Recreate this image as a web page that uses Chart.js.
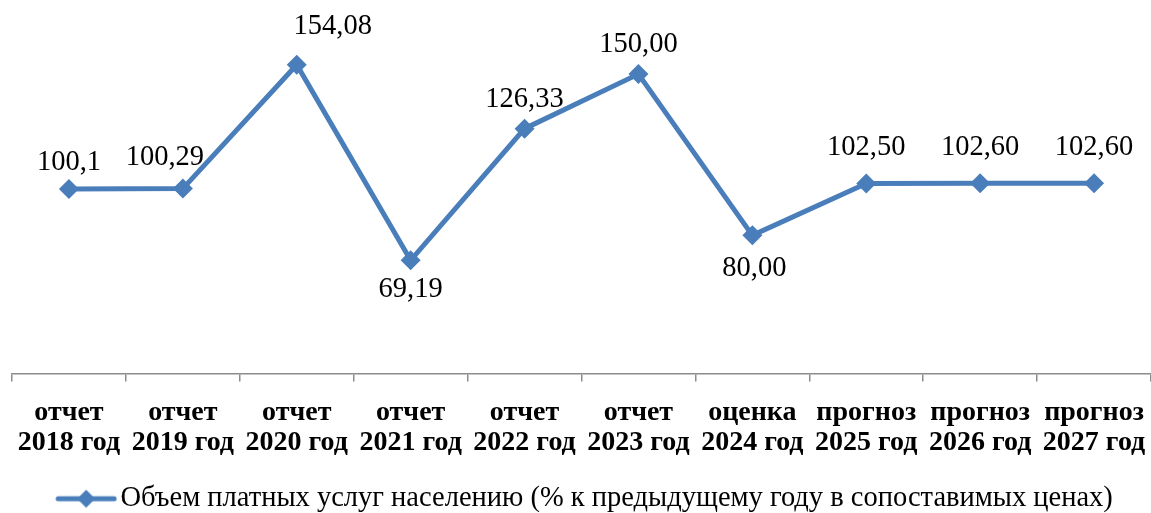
<!DOCTYPE html>
<html lang="ru">
<head>
<meta charset="utf-8">
<script src="https://cdn.jsdelivr.net/npm/chart.js@4.4.1/dist/chart.umd.min.js"></script>
<style>
  html,body{margin:0;padding:0;background:#fff;}
  #wrap{width:1151px;height:513px;position:relative;}
</style>
</head>
<body>
<div id="wrap"><canvas id="c"></canvas></div>
<script>
// ── DATA ──────────────────────────────────────────────────────────────────────
const labelsTop = ['отчет','отчет','отчет','отчет','отчет','отчет','оценка','прогноз','прогноз','прогноз'];
const years     = ['2018 год','2019 год','2020 год','2021 год','2022 год','2023 год','2024 год','2025 год','2026 год','2027 год'];
const values    = [100.1, 100.29, 154.08, 69.19, 126.33, 150.00, 80.00, 102.50, 102.60, 102.60];
const valueText = ['100,1','100,29','154,08','69,19','126,33','150,00','80,00','102,50','102,60','102,60'];
const seriesName = 'Объем платных услуг населению (% к предыдущему году в сопоставимых ценах)';

const BLUE = '#4a7ebb';
const SERIF = '"Liberation Serif","Times New Roman",serif';

// label offsets relative to the marker (dx, dy of text centre)
const lblOff = [[0,-27],[-18,-31],[36,-38],[0,29],[0,-29],[0,-30],[2,33],[0,-36],[0,-36],[0,-36]];

// legend symbol: line with diamond (blank strip on the left nudges the legend right)
function legendIcon(){
  const cv=document.createElement('canvas'); cv.width=74; cv.height=20;
  const g=cv.getContext('2d');
  g.translate(12,0);
  g.strokeStyle=BLUE; g.lineWidth=5; g.lineCap='round';
  g.beginPath(); g.moveTo(3,10); g.lineTo(59,10); g.stroke();
  g.fillStyle=BLUE; g.beginPath();
  g.moveTo(31,1); g.lineTo(40,10); g.lineTo(31,19); g.lineTo(22,10); g.closePath(); g.fill();
  return cv;
}

const valLabels = {
  id:'valLabels',
  afterDatasetsDraw(chart){
    const ctx=chart.ctx, meta=chart.getDatasetMeta(0);
    ctx.save();
    ctx.font='28.5px '+SERIF; ctx.fillStyle='#000';
    ctx.textAlign='center'; ctx.textBaseline='middle';
    meta.data.forEach((p,i)=>{
      const o=lblOff[i]||[0,-30];
      ctx.fillText(valueText[i], p.x+o[0], p.y+o[1]);
    });
    ctx.restore();
  }
};

new Chart(document.getElementById('c'),{
  type:'line',
  data:{
    labels: labelsTop.map((t,i)=>[t, years[i]]),
    datasets:[{
      label: seriesName,
      data: values,
      borderColor: BLUE, backgroundColor: BLUE,
      borderWidth: 5, tension: 0,
      pointStyle:'rectRot', pointRadius: 10, pointHoverRadius: 10,
      pointBackgroundColor: BLUE, pointBorderColor: BLUE, pointBorderWidth: 0
    }]
  },
  options:{
    responsive:true, maintainAspectRatio:false, animation:false,
    layout:{autoPadding:false, padding:{top:5,left:12,right:-4,bottom:-10}},
    plugins:{
      tooltip:{enabled:false},
      legend:{
        position:'bottom',
        labels:{
          usePointStyle:true, pointStyle: legendIcon(), pointStyleWidth:52,
          color:'#000', font:{family:SERIF,size:28.5}, padding:2
        }
      }
    },
    scales:{
      x:{
        offset:true,
        border:{color:'#8c8c8c', width:1.5},
        grid:{offset:true, drawOnChartArea:false, color:'#8c8c8c', tickLength:8, lineWidth:1.5},
        ticks:{color:'#000', font:{family:SERIF,size:28,weight:'bold',lineHeight:1.07}, padding:16, maxRotation:0, autoSkip:false},
        afterFit(s){ s.height += 9; s.paddingLeft = 0; s.paddingRight = 0; }
      },
      y:{display:false, min:20, max:180}
    }
  },
  plugins:[valLabels]
});
</script>
</body>
</html>
